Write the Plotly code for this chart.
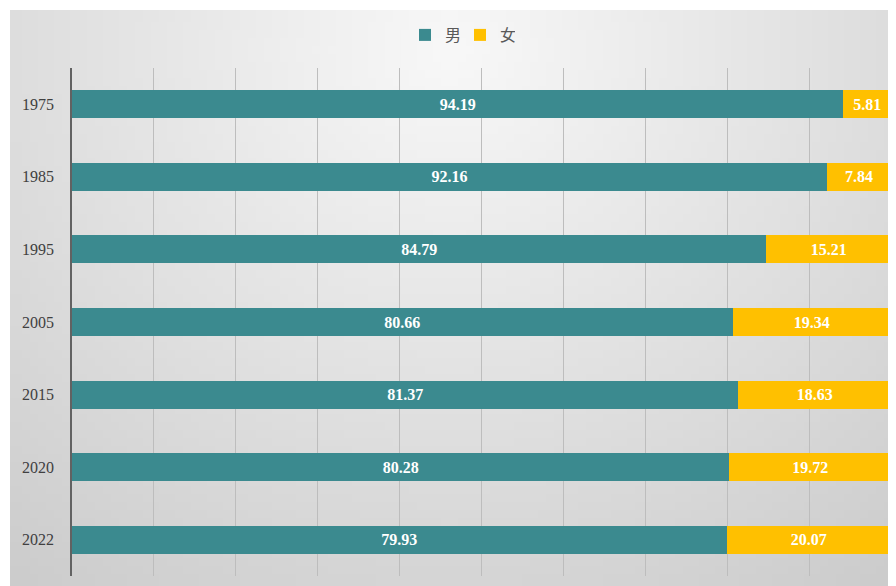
import base64, struct, zlib, math
import plotly.graph_objects as go

years = ["1975", "1985", "1995", "2005", "2015", "2020", "2022"]
male = [94.19, 92.16, 84.79, 80.66, 81.37, 80.28, 79.93]
female = [5.81, 7.84, 15.21, 19.34, 18.63, 19.72, 20.07]

OFF = 8  # page body margin
W, H = 896 - OFF, 586 - OFF
ML, MR, MT, MB = 72 - OFF, 5, 68 - OFF, 10

# radial gray gradient background as a small PNG
def make_png(w, h, func):
    raw = b""
    for j in range(h):
        row = b"\x00"
        for i in range(w):
            g = func(i, j)
            row += bytes([g, g, g])
        raw += row
    def chunk(t, d):
        c = struct.pack(">I", len(d)) + t + d
        return c + struct.pack(">I", zlib.crc32(t + d) & 0xffffffff)
    png = b"\x89PNG\r\n\x1a\n"
    png += chunk(b"IHDR", struct.pack(">IIBBBBB", w, h, 8, 2, 0, 0, 0))
    png += chunk(b"IDAT", zlib.compress(raw, 9))
    png += chunk(b"IEND", b"")
    return "data:image/png;base64," + base64.b64encode(png).decode()

# background box in figure pixel coords
bx0, by0, bx1, by1 = 10 - OFF, 10 - OFF, W, H
gw, gh = 110, 72
def grad(i, j):
    x = bx0 + (bx1 - bx0) * (i + 0.5) / gw + OFF
    y = by0 + (by1 - by0) * (j + 0.5) / gh + OFF
    d = math.sqrt(((x - 450) / 700) ** 2 + ((y - 50) / 650) ** 2)
    g = 248 - 43 * d
    return max(0, min(255, int(round(g))))

src = make_png(gw, gh, grad)
pw = W - ML - MR
ph = H - MT - MB
def px2x(px):
    return (px - ML) / pw
def py2y(py):
    return (H - MB - py) / ph

fig = go.Figure()
fig.add_trace(go.Bar(
    y=years, x=male, name="男", orientation="h",
    marker=dict(color="#3B8A8F", line=dict(width=0)),
    text=[f"{v:.2f}" for v in male], textposition="inside",
    insidetextanchor="middle",
    textfont=dict(family="Liberation Serif", size=16, color="white"),
    hoverinfo="x+name",
))
fig.add_trace(go.Bar(
    y=years, x=female, name="女", orientation="h",
    marker=dict(color="#FFC000", line=dict(width=0)),
    text=[f"{v:.2f}" for v in female], textposition="inside",
    insidetextanchor="middle",
    textfont=dict(family="Liberation Serif", size=16, color="white"),
    hoverinfo="x+name",
))
fig.update_traces(texttemplate="<b>%{text}</b>", cliponaxis=False)

fig.update_layout(
    width=W, height=H,
    barmode="stack", bargap=0.615,
    paper_bgcolor="white", plot_bgcolor="rgba(0,0,0,0)",
    margin=dict(l=ML, r=MR, t=MT, b=MB),
    uniformtext=dict(mode="show", minsize=10),
    images=[dict(
        source=src, xref="paper", yref="paper",
        x=px2x(bx0), y=py2y(by0),
        sizex=px2x(bx1) - px2x(bx0), sizey=py2y(by0) - py2y(by1),
        xanchor="left", yanchor="top", sizing="stretch", layer="below",
    )],
    legend=dict(
        orientation="h", traceorder="normal",
        x=px2x(460 - OFF), xanchor="center",
        y=py2y(35 - OFF), yanchor="middle",
        font=dict(family="Noto Sans CJK SC", size=16, color="#595959"),
        bgcolor="rgba(0,0,0,0)", itemwidth=30,
        entrywidth=10, entrywidthmode="pixels",
    ),
    xaxis=dict(
        range=[0, 100], dtick=10, showticklabels=False,
        showgrid=True, gridcolor="#BDBDBD", gridwidth=1,
        zeroline=False, showline=False, fixedrange=True,
    ),
    yaxis=dict(
        autorange="reversed", showline=True, linecolor="#626262", linewidth=1.5,
        showgrid=False, ticks="", ticklabelstandoff=13,
        tickfont=dict(family="Liberation Serif", size=16, color="#404040"),
    ),
)

fig.write_html("out.html")
